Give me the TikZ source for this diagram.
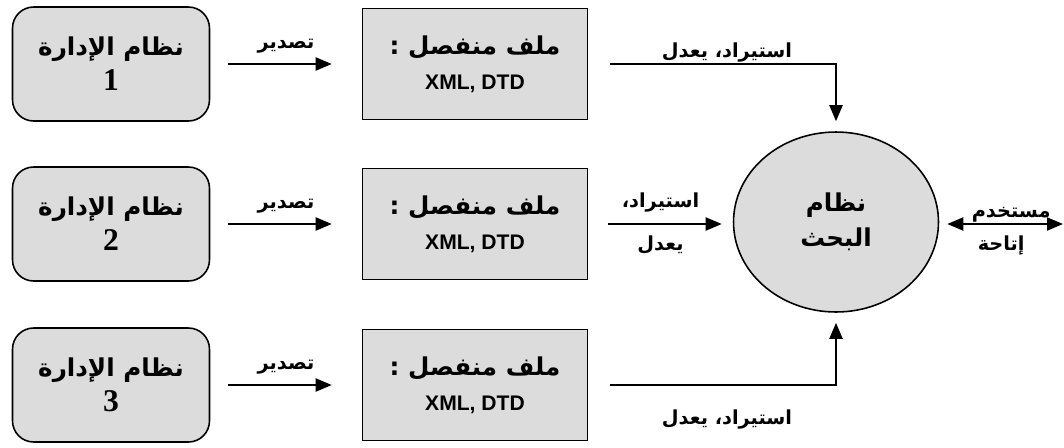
\documentclass[tikz,border=0pt]{standalone}
\usepackage{fontspec}
\setmainfont{Liberation Serif}
\newfontfamily\arabicfont[Script=Arabic]{DejaVu Sans}
\newfontfamily\labelsans{Liberation Sans}
\TeXXeTstate=1
\usetikzlibrary{arrows.meta,shapes.geometric}
\definecolor{boxgray}{RGB}{220,220,220}
\newcommand{\artext}[1]{{\arabicfont\bfseries\beginR #1\endR}}

\begin{document}
\begin{tikzpicture}[x=0.02cm, y=-0.02cm, every node/.style={align=center},
    mgmt/.style={draw, line width=0.9pt, fill=boxgray, rounded corners=12pt,
        minimum width=3.94cm, minimum height=2.28cm, font=\fontsize{14}{20}\selectfont},
    filebox/.style={draw, line width=0.9pt, fill=boxgray,
        minimum width=4.5cm, minimum height=2.22cm, font=\fontsize{14}{20}\selectfont},
    flow/.style={line width=1.1pt, -{Triangle[length=0.32cm,width=0.26cm]}},
    lbl/.style={font=\fontsize{11}{14}\selectfont}]
    \useasboundingbox (0,0) rectangle (1064,447);

    % Search system
    \node[ellipse, draw, line width=0.9pt, fill=boxgray, minimum width=4.1cm,
        minimum height=3.6cm, font=\fontsize{14}{20}\selectfont]
        (search) at (836,222) {\artext{نظام}\\ \artext{البحث}};

    % Management systems and their files
    \foreach \i/\y in {1/64, 2/224, 3/385} {
        \node[mgmt] (m\i) at (111,\y) {\artext{نظام الإدارة}\\ {\bfseries\fontsize{18}{20}\selectfont \i}};
        \node[filebox] (f\i) at (475,\y) {\artext{ملف منفصل :}\\
            {\labelsans\bfseries\fontsize{12}{14}\selectfont XML, DTD}};
        \draw[flow, shorten <=0.36cm, shorten >=0.6cm] (m\i.east) -- (f\i.west)
            node[midway, above=2pt, lbl] {\artext{تصدير}};
    }

    % Import / modify
    \draw[flow, shorten <=0.44cm, shorten >=0.2cm] (f1.east) -| (search.north)
        node[pos=0.28, above=-3pt, lbl] {\artext{استيراد، يعدل}};
    \draw[flow, shorten <=0.4cm, shorten >=0.22cm] (f2.east) -- (f2.east -| search.west)
        node[midway, above=3pt, lbl] {\artext{استيراد،}}
        node[midway, below=3pt, lbl] {\artext{يعدل}};
    \draw[flow, shorten <=0.44cm, shorten >=0.2cm] (f3.east) -| (search.south)
        node[pos=0.28, below=0.35cm, lbl] {\artext{استيراد، يعدل}};

    % User access
    \coordinate (user) at (1063,224);
    \draw[flow, {Triangle[length=0.32cm,width=0.26cm]}-{Triangle[length=0.32cm,width=0.26cm]},
        shorten <=0.16cm] (search.east |- user) -- (user)
        node[midway, above=-3pt, xshift=0.2cm, lbl] {\artext{مستخدم}}
        node[midway, below=3pt, lbl] {\artext{إتاحة}};
\end{tikzpicture}
\end{document}
